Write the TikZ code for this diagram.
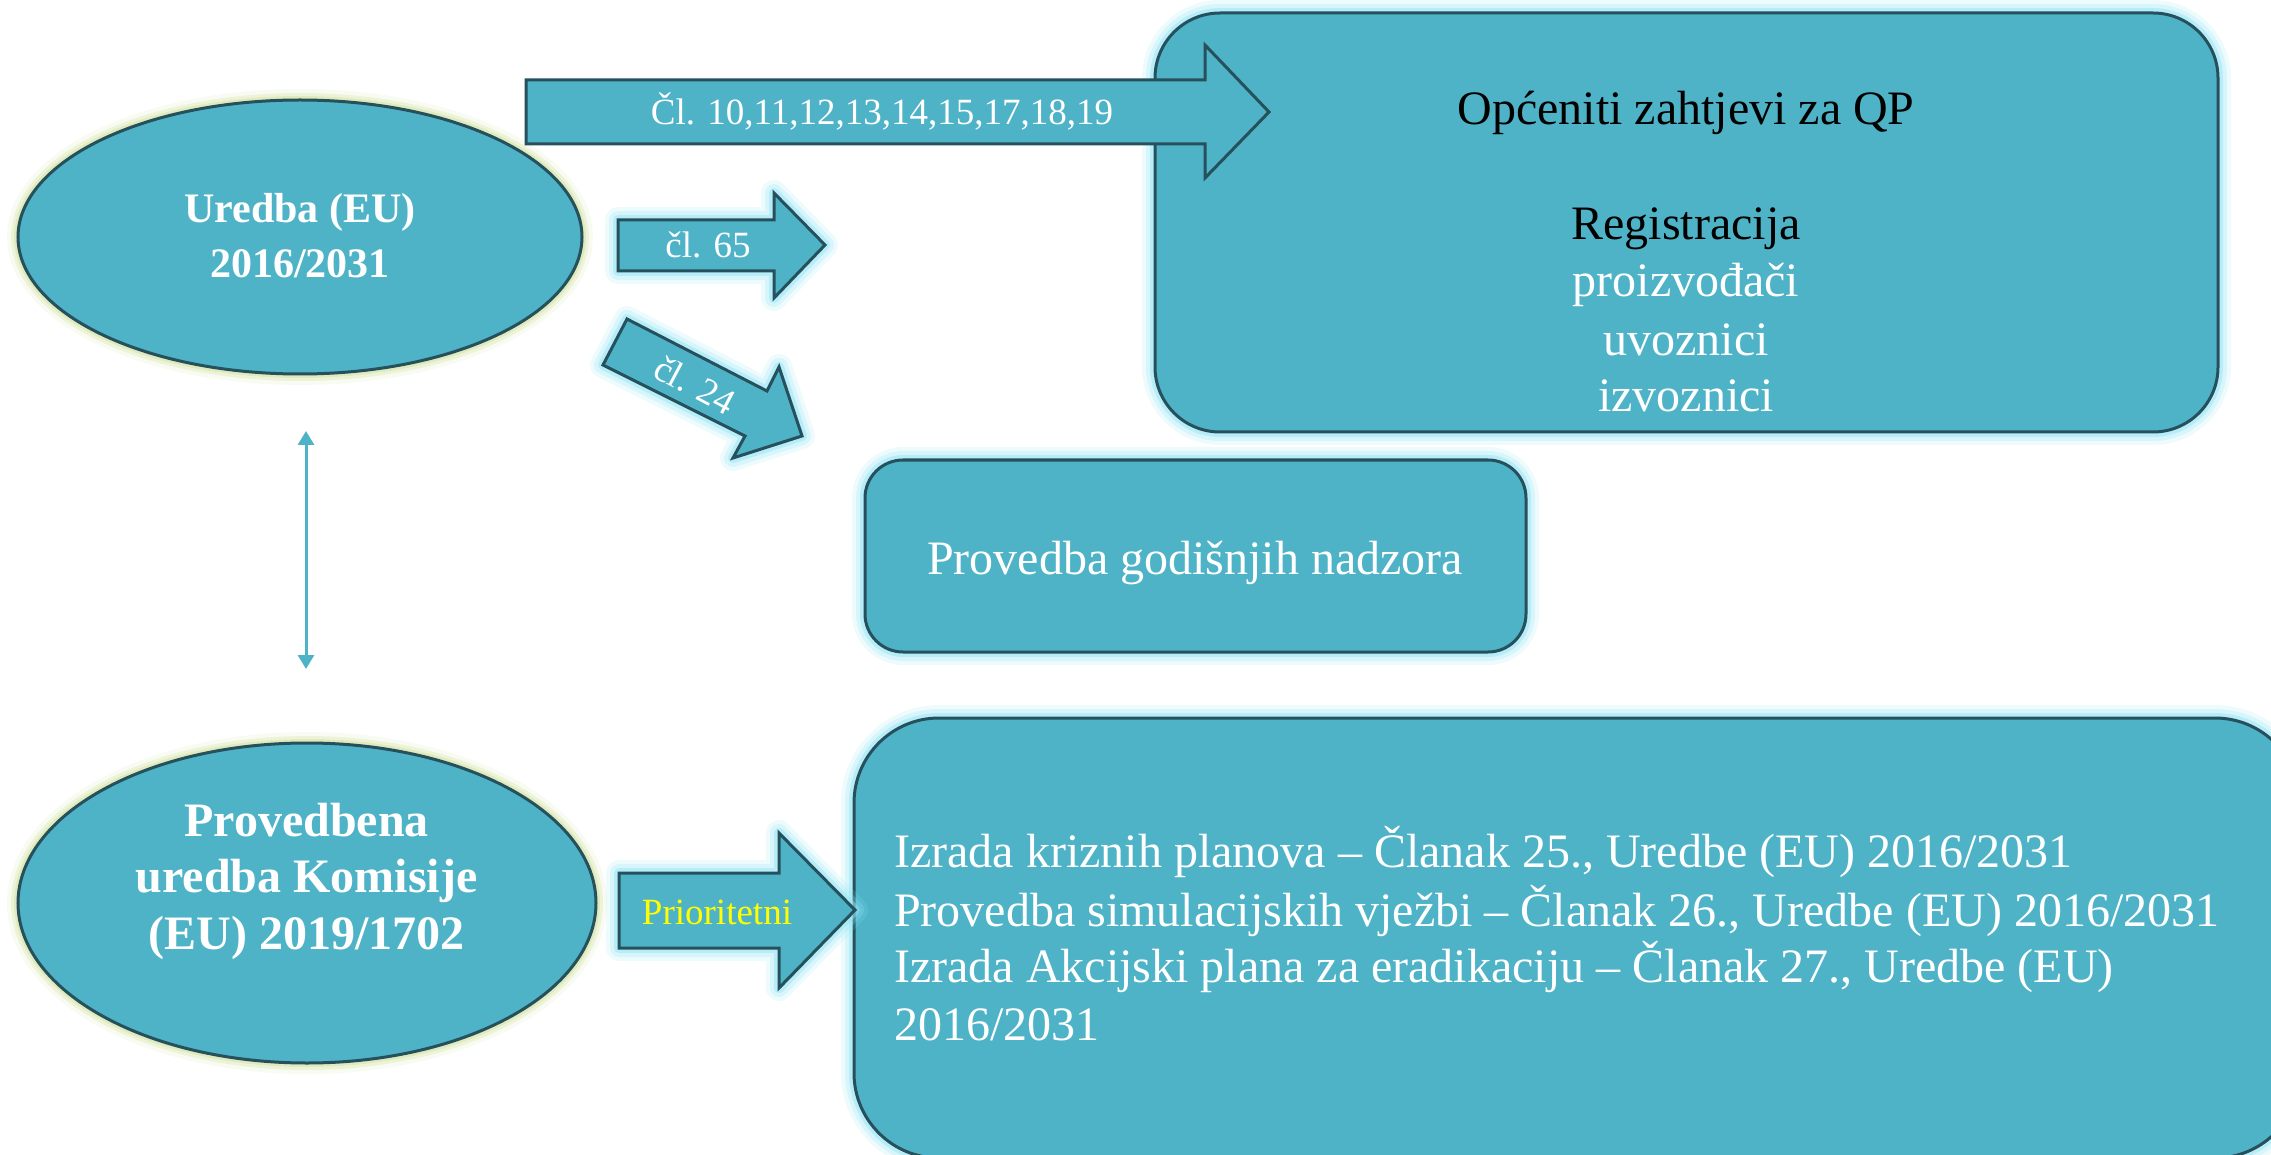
\documentclass[tikz,border=0pt]{standalone}
\usepackage{fontspec}
\setmainfont{Liberation Serif}
\usetikzlibrary{shapes.geometric,arrows.meta}
\definecolor{fillc}{HTML}{4FB3C8}
\definecolor{edgec}{HTML}{25505C}
\definecolor{glowc}{HTML}{8FE4F4}
\definecolor{glowy}{HTML}{D3E2A2}
\definecolor{lblyellow}{HTML}{FFFF00}
\tikzset{
  glowcyan/.style={
    preaction={draw=glowc,line width=26pt,draw opacity=0.15,line join=round},
    preaction={draw=glowc,line width=18pt,draw opacity=0.25,line join=round},
    preaction={draw=glowc,line width=10pt,draw opacity=0.45,line join=round}},
  glowyel/.style={
    preaction={draw=glowy,line width=22pt,draw opacity=0.15,line join=round},
    preaction={draw=glowy,line width=14pt,draw opacity=0.3,line join=round},
    preaction={draw=glowy,line width=8pt,draw opacity=0.5,line join=round}},
  shapefill/.style={fill=fillc, draw=edgec, line width=3pt},
  box/.style={shapefill, rectangle, inner sep=0pt, outer sep=0pt},
  oval/.style={shapefill, ellipse, inner sep=0pt, outer sep=0pt},
  blockarrow/.style={shapefill, line join=miter},
  txt/.style={anchor=base, inner sep=0pt, text=white},
  small/.style={font=\fontsize{37}{44}\selectfont},
  big/.style={font=\fontsize{48}{58}\selectfont},
  bigbold/.style={font=\fontsize{48}{58}\selectfont\bfseries},
  midbold/.style={font=\fontsize{42}{54}\selectfont\bfseries},
  link/.style={draw=fillc, line width=3pt, {Triangle[width=16pt,length=14pt]}-{Triangle[width=16pt,length=14pt]}}
}
\begin{document}
\begin{tikzpicture}[x=1pt,y=-1pt]
\useasboundingbox (0,0) rectangle (2271,1155);
\clip (0,0) rectangle (2271,1155);

% boxes
\node[box, glowcyan, rounded corners=65pt, minimum width=1063pt, minimum height=419pt] (req) at (1686.5,222.5) {};
\node[box, glowcyan, rounded corners=38pt, minimum width=661pt, minimum height=192pt] (nadzor) at (1195.5,556) {};
\node[box, glowcyan, rounded corners=85pt, minimum width=1446pt, minimum height=440pt] (plan) at (1577,938) {};

% ellipses
\node[oval, glowyel, minimum width=564pt, minimum height=274pt] (ureg) at (300,237) {};
\node[oval, glowyel, minimum width=578pt, minimum height=320pt] (impl) at (307,903) {};

% block arrows
\draw[blockarrow] (526,80) -- (1205,80) -- (1205,45) -- (1269,112) -- (1205,178) -- (1205,144) -- (526,144) -- cycle;
\draw[blockarrow, glowcyan] (618,220) -- (774,220) -- (774,193) -- (825,245) -- (774,298) -- (774,271) -- (618,271) -- cycle;
\draw[blockarrow, glowcyan] (627,319) -- (767,391) -- (779,367) -- (802,436) -- (733,458) -- (745,436) -- (603,365) -- cycle;
\draw[blockarrow, glowcyan] (619,873) -- (779,873) -- (779,833) -- (855,910) -- (779,988) -- (779,948) -- (619,948) -- cycle;

% double arrow between the regulations
\coordinate (linkTop) at (306,431);
\coordinate (linkBot) at (306,669);
\draw[link] (linkTop) -- (linkBot);

% arrow labels
\node[txt, small] (l1) at (882,125) {Čl. 10,11,12,13,14,15,17,18,19};
\node[txt, small] (l2) at (708,258) {čl. 65};
\node[small, text=white, inner sep=0pt, rotate=-28] (l3) at (695,385) {čl. 24};
\node[txt, small, text=lblyellow] (l4) at (717,924) {Prioritetni};

% ellipse texts
\node[txt, midbold] (u1) at (300,223) {Uredba (EU)};
\node[txt, midbold] (u2) at (300,278) {2016/2031};
\node[txt, bigbold] (p1) at (306.5,836) {Provedbena};
\node[txt, bigbold] (p2) at (306.5,892) {uredba Komisije};
\node[txt, bigbold] (p3) at (306.5,949) {(EU) 2019/1702};

% box 1 texts
\node[txt, big, text=black] (r1) at (1686,125) {Općeniti zahtjevi za QP};
\node[txt, big, text=black] (r2) at (1686,240) {Registracija};
\node[txt, big] (r3) at (1686,297) {proizvođači};
\node[txt, big] (r4) at (1686,356) {uvoznici};
\node[txt, big] (r5) at (1686,412) {izvoznici};

% box 2 text
\node[txt, big] (n1) at (1195,574) {Provedba godišnjih nadzora};

% box 3 texts
\node[txt, big, anchor=base west] (c1) at (894,867) {Izrada kriznih planova – Članak 25., Uredbe (EU) 2016/2031};
\node[txt, big, anchor=base west] (c2) at (894,926) {Provedba simulacijskih vježbi – Članak 26., Uredbe (EU) 2016/2031};
\node[txt, big, anchor=base west] (c3) at (894,982) {Izrada Akcijski plana za eradikaciju – Članak 27., Uredbe (EU)};
\node[txt, big, anchor=base west] (c4) at (894,1040) {2016/2031};
\end{tikzpicture}
\end{document}
